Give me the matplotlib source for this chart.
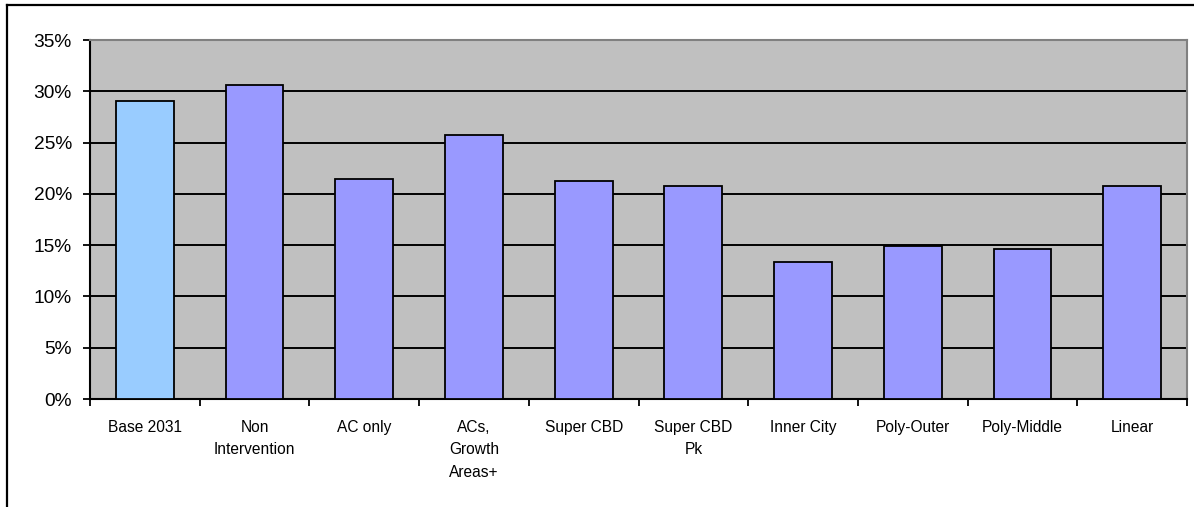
import matplotlib
matplotlib.use("Agg")
import matplotlib.pyplot as plt
from matplotlib.lines import Line2D
from matplotlib.ticker import FuncFormatter, FixedLocator

# Share of trips by scenario
scenarios = ["Base 2031", "Non\nIntervention", "AC only", "ACs,\nGrowth\nAreas+",
             "Super CBD", "Super CBD\nPk", "Inner City", "Poly-Outer",
             "Poly-Middle", "Linear"]
shares = [0.2905, 0.3064, 0.2142, 0.2574, 0.2128, 0.2073, 0.1339, 0.1495,
          0.1466, 0.2073]
bar_colors = ["#99CCFF"] + ["#9999FF"] * 9

plt.rcParams["font.family"] = ["Liberation Sans", "DejaVu Sans"]

W, H = 1194, 507
fig = plt.figure(figsize=(W / 100, H / 100), dpi=100)
ax = fig.add_axes([90 / W, 1 - 399 / H, (1187 - 90) / W, (399 - 40) / H])

ax.set_facecolor("#C0C0C0")
x = range(len(scenarios))
ax.bar(x, shares, width=0.526, color=bar_colors, edgecolor="black",
       linewidth=1.3, zorder=3)

ax.set_xlim(-0.5, len(scenarios) - 0.5)
ax.set_ylim(0, 0.35)
ax.set_yticks([i * 0.05 for i in range(8)])
ax.yaxis.set_major_formatter(FuncFormatter(lambda v, _: f"{v * 100:.0f}%"))
ax.yaxis.grid(True, color="black", linewidth=1.4, zorder=1)
ax.set_axisbelow(True)

# category labels centred, ticks on the boundaries between categories
ax.set_xticks(list(x))
ax.set_xticklabels(scenarios, fontsize=11.2, linespacing=1.62, va="top")
ax.tick_params(axis="x", length=0, pad=15)
ax.xaxis.set_minor_locator(FixedLocator([i - 0.5 for i in range(len(scenarios) + 1)]))
ax.tick_params(axis="x", which="minor", length=5, width=1.3, direction="out")
ax.tick_params(axis="y", length=5, width=1.3, direction="out", labelsize=13.8, pad=8)

for side in ("left", "bottom"):
    ax.spines[side].set_color("black")
    ax.spines[side].set_linewidth(1.5)
for side in ("top", "right"):
    ax.spines[side].set_color("#808080")
    ax.spines[side].set_linewidth(1.5)

# chart-area border (left and top edges visible)
bx, by = 6.5 / W, 1 - 5 / H
fig.add_artist(Line2D([bx, bx], [0, by], color="black", linewidth=1.6,
                      transform=fig.transFigure))
fig.add_artist(Line2D([bx, 1], [by, by], color="black", linewidth=1.6,
                      transform=fig.transFigure))

fig.savefig("out.png", dpi=100)
